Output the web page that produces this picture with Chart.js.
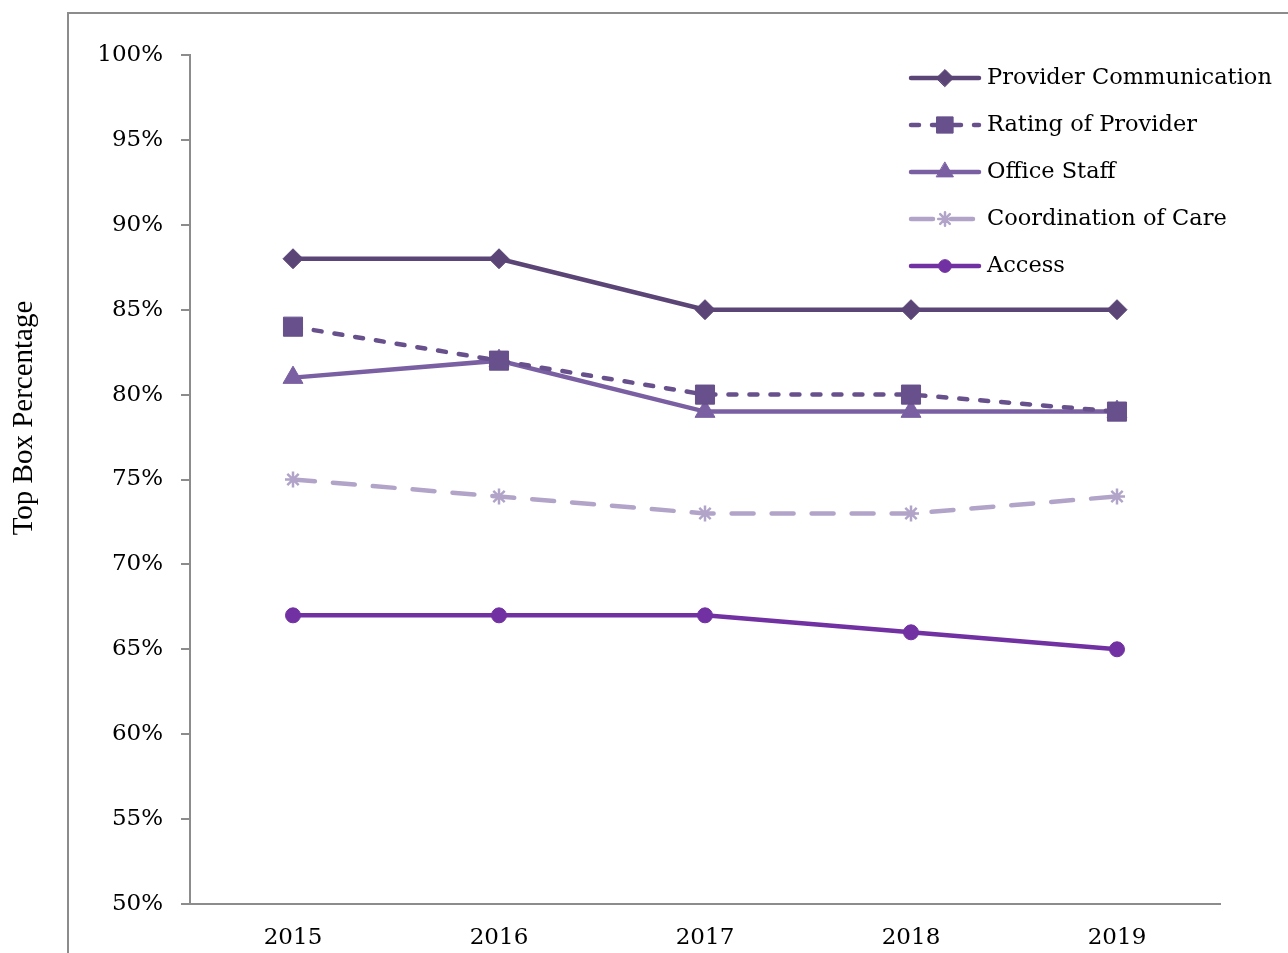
<!DOCTYPE html>
<html>
<head>
<meta charset="utf-8">
<script src="https://cdn.jsdelivr.net/npm/chart.js@4"></script>
<style>
  html, body { margin:0; padding:0; background:#fff; }
  #wrap { position:relative; width:1288px; height:953px; }
  #frame { position:absolute; left:67px; top:12px; width:1240px; height:960px;
           border-left:2px solid #8c8c8c; border-top:2px solid #8c8c8c; }
  canvas { position:absolute; left:0; top:0; }
</style>
</head>
<body>
<div id="wrap">
  <div id="frame"></div>
  <canvas id="chart" width="1288" height="953"></canvas>
</div>
<script>
// données
const years = ['2015', '2016', '2017', '2018', '2019'];
const providerComm = [88, 88, 85, 85, 85];
const ratingProvider = [84, 82, 80, 80, 79];
const officeStaff = [81, 82, 79, 79, 79];
const coordCare = [75, 74, 73, 73, 74];
const access = [67, 67, 67, 66, 65];
const yTicks = [50, 55, 60, 65, 70, 75, 80, 85, 90, 95, 100];

const serif = "'DejaVu Serif', 'Liberation Serif', serif";

// legende maison : trait + marqueur comme dans l'original
const lineLegend = {
    id: 'lineLegend',
    afterDraw(chart){
        const ctx = chart.ctx;
        const x0 = 911, x1 = 979;
        chart.data.datasets.forEach((ds, i) => {
            const y = 78 + i * 47;
            ctx.save();
            ctx.strokeStyle = ds.borderColor;
            ctx.fillStyle = ds.pointBackgroundColor;
            ctx.lineWidth = ds.borderWidth;
            ctx.lineCap = 'round';
            ctx.setLineDash(ds.borderDash || []);
            ctx.beginPath();
            ctx.moveTo(x0, y);
            ctx.lineTo(x1, y);
            ctx.stroke();
            ctx.setLineDash([]);
            ctx.lineWidth = ds.pointBorderWidth;
            Chart.helpers.drawPoint(ctx, {
                pointStyle: ds.pointStyle,
                radius: ds.pointRadius * 0.85,
                borderWidth: ds.pointBorderWidth
            }, (x0 + x1) / 2, y);
            ctx.fillStyle = '#000';
            ctx.font = "22.5px " + serif;
            ctx.textBaseline = 'middle';
            ctx.fillText(ds.label, 987, y);
            ctx.restore();
        });
    }
};

// titre de l'axe Y, pas centré sur l'axe dans l'original
const yTitle = {
    id: 'yTitle',
    afterDraw(chart){
        const ctx = chart.ctx;
        ctx.save();
        ctx.translate(24, 418);
        ctx.rotate(-Math.PI / 2);
        ctx.fillStyle = '#000';
        ctx.font = "29px 'Liberation Serif', serif";
        ctx.textAlign = 'center';
        ctx.textBaseline = 'middle';
        ctx.fillText('Top Box Percentage', 0, 0);
        ctx.restore();
    }
};

function series(label, data, color, style, radius, dash){
    return {
        label: label,
        data: data,
        borderColor: color,
        backgroundColor: color,
        pointBackgroundColor: color,
        pointBorderColor: color,
        borderWidth: 4.5,
        borderDash: dash,
        borderCapStyle: 'round',
        pointStyle: style,
        pointRadius: radius,
        pointHoverRadius: radius,
        pointBorderWidth: style === 'star' ? 2.5 : 1,
        tension: 0,
        fill: false
    };
}

new Chart(document.getElementById('chart').getContext('2d'), {
    type: 'line',
    data: {
        labels: years,
        datasets: [
            series('Provider Communication', providerComm, '#5b4576', 'rectRot', 10, []),
            series('Rating of Provider', ratingProvider, '#67508b', 'rect', 13.5, [8, 13]),
            series('Office Staff', officeStaff, '#7a60a2', 'triangle', 11.5, []),
            series('Coordination of Care', coordCare, '#b1a4c8', 'star', 8, [22, 18]),
            series('Access', access, '#7131a2', 'circle', 7.5, [])
        ]
    },
    options: {
        responsive: false,
        animation: false,
        layout: { padding: { top: 55, right: 68, left: 0, bottom: 0 } },
        plugins: { legend: { display: false }, tooltip: { enabled: false } },
        scales: {
            x: {
                offset: true,
                grid: { display: false, drawTicks: false },
                border: { display: true, color: '#8c8c8c', width: 2 },
                ticks: { color: '#000', font: { family: serif, size: 23 }, padding: 20 },
                afterFit(scale){ scale.height = 49; }
            },
            y: {
                min: 50,
                max: 100,
                afterBuildTicks(scale){ scale.ticks = yTicks.map(v => ({ value: v })); },
                grid: { drawOnChartArea: false, drawTicks: true, tickLength: 9, color: '#8c8c8c', lineWidth: 2 },
                border: { display: true, color: '#8c8c8c', width: 2 },
                ticks: {
                    color: '#000',
                    font: { family: serif, size: 23 },
                    padding: 18,
                    callback: v => v + '%'
                },
                afterFit(scale){ scale.width = 190; }
            }
        }
    },
    plugins: [lineLegend, yTitle]
});
</script>
</body>
</html>
